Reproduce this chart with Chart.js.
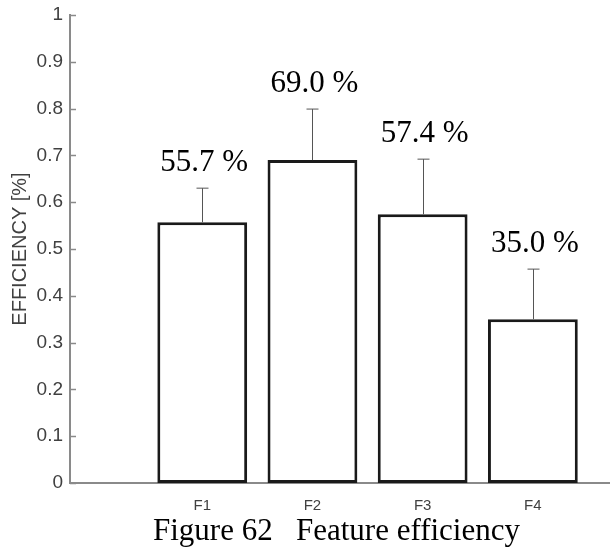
<!DOCTYPE html>
<html lang="en">
<head>
    <meta charset="UTF-8">
    <title>Feature efficiency</title>
    <script src="https://cdn.jsdelivr.net/npm/chart.js"></script>
    <style>
        body { margin: 0; background: #fff; }
        #wrap { width: 610px; height: 548px; }
    </style>
</head>
<body>
    <div id="wrap"><canvas id="barChart"></canvas></div>
    <script>
        // data
        const features = ['F1', 'F2', 'F3', 'F4'];
        const positions = [1, 2, 3, 4];
        const efficiency = [0.557, 0.690, 0.574, 0.350];
        const upperError = [0.073, 0.109, 0.118, 0.107];
        const yTicks = [0, 0.1, 0.2, 0.3, 0.4, 0.5, 0.6, 0.7, 0.8, 0.9, 1];
        const caption = 'Figure 62   Feature efficiency';

        const axisGray = '#8a8a8a';
        const textGray = '#404040';
        const sans = "'Liberation Sans', Arial, sans-serif";
        const serif = "'Liberation Serif', 'Times New Roman', serif";

        // inward tick marks on y axis, error bars, value labels and caption
        const extras = {
            id: 'extras',
            afterDatasetsDraw(chart) {
                const ctx = chart.ctx;
                const y = chart.scales.y;
                const area = chart.chartArea;
                ctx.save();
                ctx.strokeStyle = axisGray;
                ctx.lineWidth = 1.5;
                y.ticks.forEach(t => {
                    const py = Math.round(y.getPixelForValue(t.value)) + 0.5;
                    ctx.beginPath();
                    ctx.moveTo(area.left, py);
                    ctx.lineTo(area.left + 6, py);
                    ctx.stroke();
                });

                const bars = chart.getDatasetMeta(0).data;
                bars.forEach((bar, i) => {
                    const top = y.getPixelForValue(efficiency[i] + upperError[i]);
                    const x = Math.round(bar.x) + 0.5;
                    ctx.strokeStyle = '#555';
                    ctx.lineWidth = 1;
                    ctx.beginPath();
                    ctx.moveTo(x, bar.y);
                    ctx.lineTo(x, top);
                    ctx.moveTo(x - 6, top);
                    ctx.lineTo(x + 6, top);
                    ctx.stroke();

                    ctx.fillStyle = '#000';
                    ctx.font = '31px ' + serif;
                    ctx.textAlign = 'center';
                    ctx.textBaseline = 'alphabetic';
                    ctx.fillText((efficiency[i] * 100).toFixed(1) + ' %', bar.x + 2, top - 17);
                });

                ctx.fillStyle = '#000';
                ctx.font = '31px ' + serif;
                ctx.textAlign = 'left';
                ctx.fillText(caption, 153, 540);
                ctx.restore();
            }
        };

        new Chart(document.getElementById('barChart'), {
            type: 'bar',
            data: {
                datasets: [{
                    label: 'Efficiency',
                    data: positions.map((p, i) => ({ x: p, y: efficiency[i] })),
                    backgroundColor: '#ffffff',
                    borderColor: '#1a1a1a',
                    borderWidth: 3,
                    borderSkipped: false,
                    categoryPercentage: 1,
                    barPercentage: 0.815
                }]
            },
            options: {
                responsive: true,
                maintainAspectRatio: false,
                animation: false,
                layout: { padding: { top: 15, right: 0, bottom: 0, left: 0 } },
                plugins: {
                    legend: { display: false },
                    tooltip: { enabled: false }
                },
                scales: {
                    x: {
                        type: 'linear',
                        min: -0.2,
                        max: 4.7,
                        offset: false,
                        afterBuildTicks: s => { s.ticks = positions.map(v => ({ value: v })); },
                        afterFit: s => { s.height = 65; },
                        grid: { display: false, drawTicks: false, offset: false },
                        border: { color: axisGray, width: 2 },
                        ticks: {
                            padding: 14,
                            color: textGray,
                            font: { family: sans, size: 15 },
                            callback: v => features[positions.indexOf(v)] || ''
                        }
                    },
                    y: {
                        min: 0,
                        max: 1,
                        afterBuildTicks: s => { s.ticks = yTicks.map(v => ({ value: v })); },
                        afterFit: s => { s.width = 70; s.paddingTop = 0; s.paddingBottom = 0; },
                        grid: { display: false, drawTicks: false },
                        border: { color: axisGray, width: 2 },
                        ticks: {
                            padding: 7,
                            color: textGray,
                            font: { family: sans, size: 19 },
                            callback: v => String(v)
                        },
                        title: {
                            display: true,
                            text: 'EFFICIENCY [%]',
                            color: textGray,
                            font: { family: sans, size: 20 },
                            padding: { top: 8, bottom: 0 }
                        }
                    }
                }
            },
            plugins: [extras]
        });
    </script>
</body>
</html>
